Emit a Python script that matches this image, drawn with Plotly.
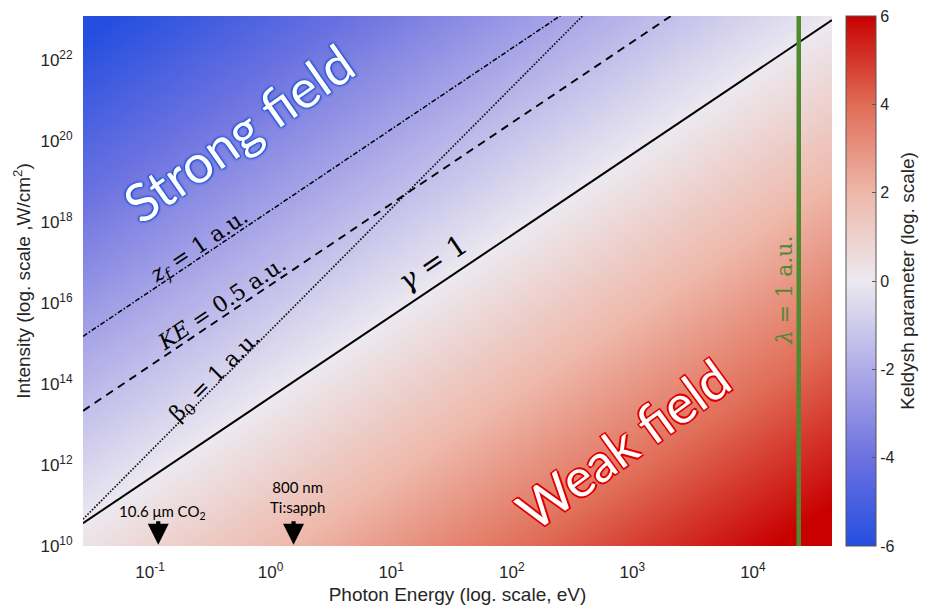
import numpy as np
import plotly.graph_objects as go

# ---- physical inputs --------------------------------------------------
IP_EV = 13.6            # ionization potential (hydrogen), eV
UP_COEFF = 9.33e-14     # Up[eV] = UP_COEFF * I[W/cm^2] * lambda[um]^2
HC_EV_UM = 1.23984      # photon energy [eV] x wavelength [um]

# axis limits, in decades (log10 eV, log10 W/cm^2)
LOG_E_RANGE = [-1.556, 4.656]
LOG_I_RANGE = [10.0, 23.09]

# further regime boundaries: log10(I) = intercept + slope * log10(E)
BOUNDARY_NAMES = ["ke", "zf", "beta0"]
BOUNDARY_INTERCEPTS = [16.45, 18.29, 15.33]
BOUNDARY_SLOPES = [2, 2, 3]

# photon energy at which the wavelength equals 1 a.u.
LAMBDA_AU_EV = 2.4e4

# laser sources marked along the energy axis
SOURCE_LABELS = ["10.6 μm CO<sub>2</sub>", "800 nm<br>Ti:sapph"]
SOURCE_WAVELENGTHS_UM = [10.6, 0.8]

X_TICK_EXP = [-1, 0, 1, 2, 3, 4]
Y_TICK_EXP = [10, 12, 14, 16, 18, 20, 22]
CBAR_TICKS = [-6, -4, -2, 0, 2, 4, 6]

# ---- Keldysh parameter map ---------------------------------------------
log_e = np.linspace(LOG_E_RANGE[0], LOG_E_RANGE[1], 180)
log_i = np.linspace(LOG_I_RANGE[0], LOG_I_RANGE[1], 180)
LE, LI = np.meshgrid(log_e, log_i)
wavelength_um = HC_EV_UM / 10.0 ** LE
up_ev = UP_COEFF * 10.0 ** LI * wavelength_um ** 2
log_gamma = 0.5 * np.log10(IP_EV / (2.0 * up_ev))

# gamma = 1 line follows from the same relation
gamma_intercept = np.log10(IP_EV / (2.0 * UP_COEFF * HC_EV_UM ** 2))

colorscale = [
    [0.0, "rgb(36,78,224)"],
    [0.1667, "rgb(108,114,224)"],
    [0.3333, "rgb(176,172,232)"],
    [0.5, "rgb(236,233,240)"],
    [0.6667, "rgb(238,184,170)"],
    [0.8333, "rgb(224,108,86)"],
    [1.0, "rgb(200,0,0)"],
]

TXT = "#262626"
AX_FONT = "Liberation Sans, Arial, sans-serif"
MATH_FONT = "DejaVu Serif, serif"
CAL_FONT = "Lato, Open Sans, sans-serif"

fig = go.Figure()
fig.add_trace(go.Heatmap(
    x=log_e, y=log_i, z=log_gamma,
    zmin=-6, zmax=6, zsmooth="best",
    colorscale=colorscale,
    showscale=True,
    hoverinfo="skip",
    colorbar=dict(
        x=1.0187, xanchor="left", xpad=0, ypad=0,
        y=0.5, yanchor="middle", len=1, lenmode="fraction",
        thickness=30, outlinewidth=1, outlinecolor="#555",
        tickvals=CBAR_TICKS, ticktext=[str(t) for t in CBAR_TICKS],
        ticks="inside", ticklen=4, tickcolor="#555",
        tickfont=dict(family=AX_FONT, size=16, color=TXT),
        title=dict(text="Keldysh parameter (log. scale)", side="right",
                   font=dict(family=AX_FONT, size=19, color=TXT)),
    ),
))

x_ends = np.array(LOG_E_RANGE)

# gamma = 1
fig.add_trace(go.Scatter(
    x=x_ends, y=gamma_intercept + 2 * x_ends, mode="lines",
    line=dict(color="black", width=2), hoverinfo="skip", showlegend=False))

line_styles = {
    "ke": dict(color="black", width=1.9, dash="8px,6px"),
    "zf": dict(color="black", width=1.5, dash="5px,2px,1.5px,2px"),
    "beta0": dict(color="#111", width=1.7, dash="1.6px,1.6px"),
}
for name, c, s in zip(BOUNDARY_NAMES, BOUNDARY_INTERCEPTS, BOUNDARY_SLOPES):
    fig.add_trace(go.Scatter(
        x=x_ends, y=c + s * x_ends, mode="lines",
        line=line_styles[name], hoverinfo="skip", showlegend=False))

# lambda = 1 a.u.
lam_x = np.log10(LAMBDA_AU_EV)
fig.add_trace(go.Scatter(
    x=[lam_x, lam_x], y=LOG_I_RANGE, mode="lines",
    line=dict(color="#508a30", width=4.5), hoverinfo="skip", showlegend=False))

annotations = []


def label(text, x, y, angle, size, color="black", family=MATH_FONT, **kw):
    annotations.append(dict(
        x=x, y=y, xref="x", yref="y", text=text, showarrow=False,
        textangle=angle, font=dict(family=family, size=size, color=color, **kw)))


label("<i>γ</i> = 1", 1.35, 16.99, -34, 28)
label("<i>z</i><sub><i>f</i></sub> = 1 a.u.", -0.593, 17.38, -34, 22)
label("<i>KE</i> = 0.5 a.u.", -0.41, 16.0, -34, 22)
label("β<sub>0</sub> = 1 a.u.", -0.46, 14.17, -45, 22)
label("<i>λ</i> = 1 a.u.", 4.258, 16.32, -90, 22, color="#508a30")

blue_glow = ", ".join(["0 0 3px #2c5ad6"] * 3 + ["1px 1px 1px #2c5ad6", "-1px -1px 1px #2c5ad6"])
red_edge = ", ".join([f"{dx}px {dy}px 0 #e00000" for dx in (-1.5, 1.5) for dy in (-1.5, 1.5)]
                     + ["0 0 2px #e00000"])
label("Strong field", -0.27, 20.22, -35, 53, color="white", family=CAL_FONT,
      shadow=blue_glow)
label("Weak field", 2.92, 12.54, -36, 53, color="white", family=CAL_FONT,
      shadow=red_edge)

# source markers along the energy axis
text_y = [10.84, 11.21]
for txt, wl, ty in zip(SOURCE_LABELS, SOURCE_WAVELENGTHS_UM, text_y):
    sx = np.log10(HC_EV_UM / wl)
    annotations.append(dict(
        x=sx, y=10.03, xref="x", yref="y", text="", showarrow=True,
        ax=0, ay=-25, arrowhead=2, arrowsize=1.0, arrowwidth=4.2,
        arrowcolor="black"))
    annotations.append(dict(
        x=sx, y=ty, xref="x", yref="y", text=txt, showarrow=False,
        xshift=4, font=dict(family=CAL_FONT, size=15, color="black")))

fig.update_layout(
    width=925, height=605,
    margin=dict(l=83, r=93, t=16, b=59, autoexpand=False),
    paper_bgcolor="white", plot_bgcolor="white",
    annotations=annotations,
    showlegend=False,
    xaxis=dict(
        range=LOG_E_RANGE, showgrid=False, zeroline=False, showline=False,
        tickvals=X_TICK_EXP, ticktext=[f"10<sup>{e}</sup>" for e in X_TICK_EXP],
        tickfont=dict(family=AX_FONT, size=17, color=TXT),
        ticks="outside", ticklen=11, tickcolor="rgba(0,0,0,0)",
        title=dict(text="Photon Energy (log. scale, eV)", standoff=9,
                   font=dict(family=AX_FONT, size=19, color=TXT)),
        automargin=False,
    ),
    yaxis=dict(
        range=LOG_I_RANGE, showgrid=False, zeroline=False, showline=False,
        tickvals=Y_TICK_EXP, ticktext=[f"10<sup>{e}</sup>" for e in Y_TICK_EXP],
        tickfont=dict(family=AX_FONT, size=17, color=TXT),
        ticks="outside", ticklen=6, tickcolor="rgba(0,0,0,0)",
        title=dict(text="Intensity (log. scale ,W/cm<sup>2</sup>)", standoff=4,
                   font=dict(family=AX_FONT, size=19, color=TXT)),
        automargin=False,
    ),
)

fig.write_html("out.html")
